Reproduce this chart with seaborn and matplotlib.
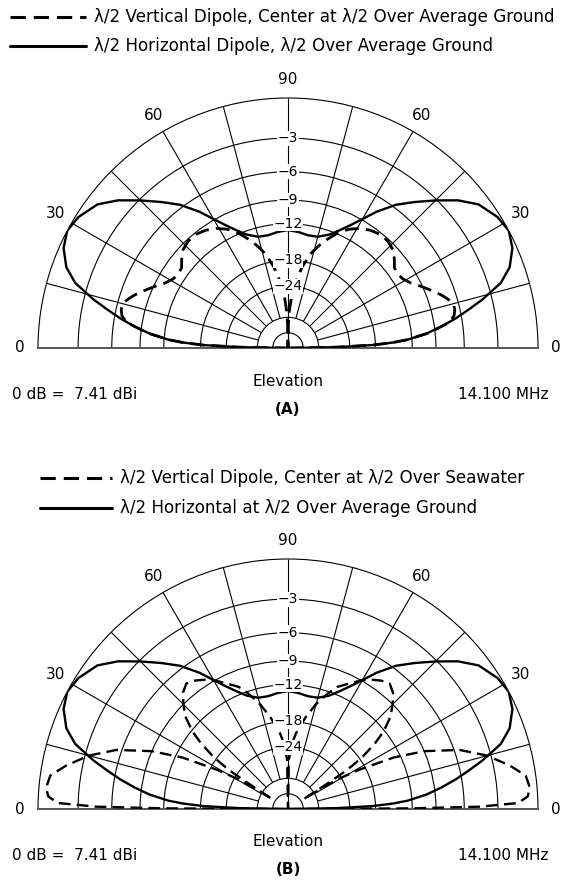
import numpy as np
import matplotlib
matplotlib.use("Agg")
import matplotlib.pyplot as plt
from matplotlib.lines import Line2D
import pandas as pd
import seaborn as sns

# ---- elevation angles (deg) and relative gain (dB) for 0..90 deg; patterns are symmetric about zenith
horiz_elev = [0, 1, 2, 3, 4, 6, 8, 10, 12, 14, 17, 20, 24, 28, 32, 37, 41, 45, 49, 53,
              57, 60, 63, 66, 70, 75, 80, 85, 90]
horiz_db = [-99, -28, -18.5, -14.8, -12.6, -10.0, -8.2, -6.6, -5.2, -3.8, -2.0, -1.0, -0.3, 0.0,
            -0.2, -0.8, -1.8, -3.1, -4.4, -5.7, -7.4, -8.9, -10.2, -11.3, -12.5, -13.3, -13.4,
            -13.1, -12.9]

vert_avg_elev = [0, 1, 2, 3, 4, 6, 9, 11, 13, 15, 17, 19, 22, 25, 28, 31, 34, 37, 40, 43, 47,
                 51, 55, 59, 63, 67, 70, 73, 76, 78, 80, 82, 84, 86, 88, 89, 90]
vert_avg_db = [-99, -28, -18.5, -14.8, -12.6, -9.9, -7.3, -6.7, -6.5, -6.5, -6.9, -7.4, -8.3,
               -9.2, -10.1, -10.7, -10.9, -10.8, -10.1, -9.5, -9.2, -9.2, -9.5, -10.0, -10.8,
               -12.0, -13.2, -14.5, -16.0, -17.5, -19.0, -21.2, -23.5, -27.0, -33.0, -40.0, -99]

vert_sea_elev = [0, 0.3, 0.7, 1.5, 3, 5, 8, 11, 15, 19, 23, 26, 29, 31, 31.7, 32.2, 32.8, 33.3,
                 34, 35, 37, 39, 42, 45, 48, 51, 54, 57, 60, 64, 68, 71, 75, 79, 84, 87, 89, 90]
vert_sea_db = [-99, -12.0, -4.5, -1.4, -0.7, -0.5, -0.7, -1.7, -3.3, -5.5, -9.0, -13.0, -19.5,
               -25.5, -35.0, -45.0, -30.0, -23.0, -20.0, -17.3, -14.3, -12.2, -10.2, -9.0, -8.0,
               -7.5, -7.8, -8.3, -8.9, -10.0, -11.0, -12.3, -14.3, -16.8, -20.4, -23.5, -28.0, -99]

ring_levels = [-48, -36, -24, -18, -12, -9, -6, -3]
ring_labels = ["\u221224", "\u221218", "\u221212", "\u22129", "\u22126", "\u22123"]
angle_ticks = [0, 30, 60, 90, 120, 150, 180]
angle_labels = ["0", "30", "60", "90", "60", "30", "0"]
spoke_angles = [15, 30, 45, 60, 75, 105, 120, 135, 150, 165]

legend_a = ["\u03bb/2 Vertical Dipole, Center at \u03bb/2 Over Average Ground",
            "\u03bb/2 Horizontal Dipole, \u03bb/2 Over Average Ground"]
legend_b = ["\u03bb/2 Vertical Dipole, Center at \u03bb/2 Over Seawater",
            "\u03bb/2 Horizontal at \u03bb/2 Over Average Ground"]
ref_text = "0 dB =  7.41 dBi"
freq_text = "14.100 MHz"


def full_pattern(elev, db, name):
    """Both halves of a symmetric elevation pattern, 0..180 deg."""
    e = list(elev) + [180 - a for a in reversed(elev[:-1])]
    d = list(db) + list(reversed(db[:-1]))
    return pd.DataFrame({"theta": np.deg2rad(e), "gain": d, "antenna": name})


# ARRL log-periodic radial scale: each 2 dB step is 0.89 of the radius
def fwd(d):
    return np.power(0.89, -np.asarray(d, dtype=float) / 2.0)


def inv(r):
    r = np.maximum(np.asarray(r, dtype=float), 1e-12)
    return -2.0 * np.log(r) / np.log(0.89)


sns.set_theme(style="white")
plt.rcParams["font.family"] = ["DejaVu Sans"]
plt.rcParams["text.color"] = "black"

W, H = 564, 884
fig = plt.figure(figsize=(W / 100, H / 100), dpi=100)
fig.patch.set_facecolor("white")
FS = 11


def px(x, y):
    return x / W, 1 - y / H


def polar_panel(cx, cy, R, vert_df, horiz_df, dash_lw):
    # square polar box; the half-disk wedge sits centred in it
    ax = fig.add_axes([(cx - R) / W, 1 - (cy + 0.5 * R) / H, 2 * R / W, 2 * R / H],
                      projection="polar")
    ax.set_thetamin(0)
    ax.set_thetamax(180)
    ax.set_rscale("function", functions=(fwd, inv))
    ax.set_rlim(-200, 0)
    ax.set_facecolor("white")

    ax.set_xticks([])
    ax.set_yticks(ring_levels)
    ax.set_yticklabels([])
    ax.yaxis.grid(True, color="black", linewidth=0.8, linestyle="-")
    ax.xaxis.grid(False)

    ax.spines["polar"].set_color("black")
    ax.spines["polar"].set_linewidth(0.8)
    for s in ("start", "end"):
        ax.spines[s].set_color("#555555")
        ax.spines[s].set_linewidth(1.4)
    ax.spines["inner"].set_visible(False)

    ax.vlines(np.deg2rad(spoke_angles), -36, 0, colors="black", linewidth=0.8, zorder=1)
    ax.vlines(np.pi / 2, -200, 0, colors="black", linewidth=0.8, zorder=1)

    sns.lineplot(data=horiz_df, x="theta", y="gain", ax=ax, sort=False, estimator=None,
                 color="black", linewidth=1.7, legend=False, zorder=3)
    sns.lineplot(data=vert_df, x="theta", y="gain", ax=ax, sort=False, estimator=None,
                 color="black", linewidth=dash_lw, linestyle=(0, (5, 2.6)), legend=False,
                 zorder=3)
    ax.set_xlabel("")
    ax.set_ylabel("")
    ax.set_rlim(-200, 0)

    for lvl, lab in zip(ring_levels[2:], ring_labels):
        ax.text(np.pi / 2, lvl, lab, ha="center", va="center", fontsize=FS - 1, zorder=4,
                bbox=dict(facecolor="white", edgecolor="none", pad=0.3))
    for a, lab in zip(angle_ticks, angle_labels):
        frac = 1.072
        ax.text(np.deg2rad(a), float(inv(frac)), lab, ha="center", va="center", fontsize=FS)
    return ax


horiz = full_pattern(horiz_elev, horiz_db, "horizontal")
vert_a = full_pattern(vert_avg_elev, vert_avg_db, "vertical")
vert_b = full_pattern(vert_sea_elev, vert_sea_db, "vertical")

dash_style = (0, (5, 2.6))


def legend_block(labels, x_line0, x_line1, x_text, y0, y1, lw):
    for lab, y, ls in zip(labels, (y0, y1), (dash_style, "-")):
        fig.add_artist(Line2D([x_line0 / W, x_line1 / W], [1 - y / H, 1 - y / H],
                              transform=fig.transFigure, color="black", linewidth=lw,
                              linestyle=ls))
        fig.text(*px(x_text, y), lab, ha="left", va="center", fontsize=FS + 1.1)


def footer(cy, tag):
    fig.text(*px(288, cy + 33), "Elevation", ha="center", va="center", fontsize=FS)
    fig.text(*px(12, cy + 47), ref_text, ha="left", va="center", fontsize=FS)
    fig.text(*px(548, cy + 47), freq_text, ha="right", va="center", fontsize=FS)
    fig.text(*px(288, cy + 61), tag, ha="center", va="center", fontsize=FS,
             fontweight="bold")


polar_panel(288, 348, 250, vert_a, horiz, 2.0)
legend_block(legend_a, 10, 86, 94, 17, 46, 2.2)
footer(348, "(A)")

polar_panel(288, 809, 250, vert_b, horiz, 1.7)
legend_block(legend_b, 40, 112, 120, 478, 508, 2.2)
footer(809, "(B)")

fig.savefig("out.png", dpi=100, facecolor="white")
